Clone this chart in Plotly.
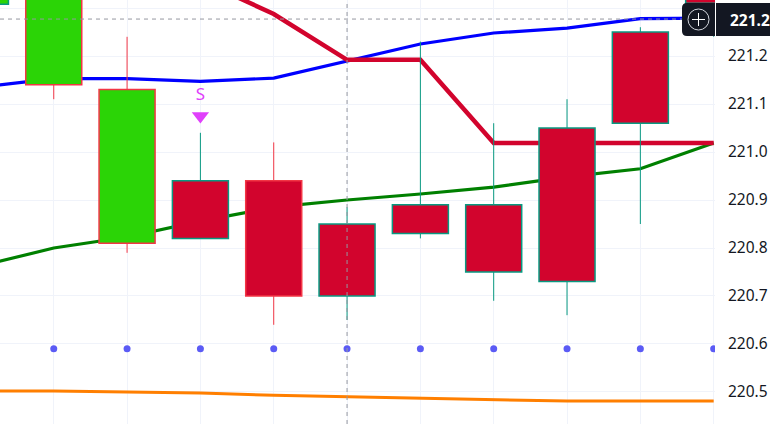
import plotly.graph_objects as go

idx = [-1, 0, 1, 2, 3, 4, 5, 6, 7, 8, 9]
body_top = [221.40, 221.40, 221.13, 220.94, 220.94, 220.85, 220.89, 220.89, 221.05, 221.25, 221.40]
body_bot = [221.308, 221.14, 220.81, 220.82, 220.70, 220.70, 220.83, 220.75, 220.73, 221.06, 221.31]
high = [221.42, 221.42, 221.24, 221.04, 221.02, 220.885, 221.23, 221.06, 221.11, 221.26, 221.45]
low = [221.30, 221.11, 220.79, 220.82, 220.64, 220.65, 220.82, 220.69, 220.66, 220.85, 221.24]
fills = ["#2bd406", "#2bd406", "#2bd406"] + ["#d2042d"] * 8
borders = ["#089981", "#f23645", "#f23645", "#089981", "#f23645"] + ["#089981"] * 6

blue = [221.135, 221.153, 221.153, 221.147, 221.154, 221.19, 221.225, 221.248, 221.258, 221.278, 221.279]
red = [None, None, None, 221.358, 221.2875, 221.192, 221.192, 221.019, 221.019, 221.019, 221.019]
green = [220.7625, 220.80, 220.823, 220.856, 220.885, 220.90, 220.9125, 220.927, 220.948, 220.965, 221.019]
orange = [220.502, 220.502, 220.50, 220.498, 220.493, 220.49, 220.4875, 220.483, 220.481, 220.481, 220.481]
dots = [220.59] * 10
signal_x = [2]
signal_y = [221.075]
signal_label_y = [221.117]
current_price = 221.277
crosshair_x = 4
tick_vals = [220.5, 220.6, 220.7, 220.8, 220.9, 221.0, 221.1, 221.2, 221.3]
tick_text = ["220.5", "220.6", "220.7", "220.8", "220.9", "221.0", "221.1", "221.2", "221.3"]

W, H, R = 770, 424, 55
fig = go.Figure()

for vals, col, w in [(orange, "#ff7f00", 3), (green, "#008000", 3.2), (blue, "#0000ff", 3.2), (red, "#d2042d", 4.5)]:
    fig.add_trace(go.Scatter(x=idx, y=vals, mode="lines", line=dict(color=col, width=w), zorder=1,
                             connectgaps=False, showlegend=False, hoverinfo="skip"))

for col in ["#089981", "#f23645"]:
    xs, ys = [], []
    for i, b in enumerate(borders):
        if b == col:
            xs += [idx[i], idx[i], None]
            ys += [low[i], high[i], None]
    fig.add_trace(go.Scatter(x=xs, y=ys, mode="lines", line=dict(color=col, width=1), zorder=2,
                             showlegend=False, hoverinfo="skip"))

fig.add_trace(go.Bar(x=idx, y=[t - b for t, b in zip(body_top, body_bot)], base=body_bot, width=0.764,
                     marker=dict(color=fills, line=dict(color=borders, width=1.5)), zorder=3,
                     showlegend=False, hoverinfo="skip"))

fig.add_trace(go.Scatter(x=idx[1:], y=dots, mode="markers", marker=dict(color="#5b5bf5", size=7), zorder=4,
                         showlegend=False, hoverinfo="skip"))

fig.add_trace(go.Scatter(x=signal_x, y=signal_y, mode="markers",
                         marker=dict(symbol="triangle-down", color="#e040fb", size=15), zorder=5,
                         showlegend=False, hoverinfo="skip"))
fig.add_trace(go.Scatter(x=signal_x, y=signal_label_y, mode="text", text=["S"], textposition="middle center",
                         textfont=dict(color="#e040fb", size=17, family="Noto Sans"), zorder=5,
                         showlegend=False, hoverinfo="skip"))

dash = dict(color="#9598a1", width=1, dash="4px,4px")
shapes = [
    dict(type="line", xref="x", yref="paper", x0=crosshair_x, x1=crosshair_x, y0=0, y1=1, line=dash, layer="above"),
    dict(type="line", xref="paper", yref="y", x0=0, x1=1, y0=current_price, y1=current_price, line=dash, layer="above"),
]


def px(x):
    return x / (W - R)


def py(y):
    return 1 - y / H


# price label and crosshair button on the right
shapes += [
    dict(type="path", xref="paper", yref="paper", layer="above", line=dict(width=0), fillcolor="#131722",
         path=f"M {px(715)} {py(3)} L {px(687)} {py(3)} Q {px(682)} {py(3)} {px(682)} {py(8)} "
              f"L {px(682)} {py(31)} Q {px(682)} {py(36)} {px(687)} {py(36)} L {px(715)} {py(36)} Z"),
    dict(type="rect", xref="paper", yref="paper", layer="above", line=dict(width=0), fillcolor="#131722",
         x0=px(716), x1=px(770), y0=py(36), y1=py(3)),
    dict(type="circle", xref="paper", yref="paper", layer="above", line=dict(color="#d1d4dc", width=1),
         x0=px(688), x1=px(709), y0=py(30), y1=py(9)),
    dict(type="line", xref="paper", yref="paper", layer="above", line=dict(color="#ffffff", width=1),
         x0=px(692), x1=px(705), y0=py(19.5), y1=py(19.5)),
    dict(type="line", xref="paper", yref="paper", layer="above", line=dict(color="#ffffff", width=1),
         x0=px(698.5), x1=px(698.5), y0=py(13), y1=py(26)),
]

fig.update_layout(
    width=W, height=H, margin=dict(l=0, r=R, t=0, b=0), paper_bgcolor="#ffffff", plot_bgcolor="#ffffff",
    showlegend=False, shapes=shapes, hovermode=False,
    font=dict(family="Noto Sans", color="#131722", size=15.5),
    xaxis=dict(range=[-0.733, 9.018], tickvals=idx[1:], showticklabels=False, gridcolor="#f0f3fa", gridwidth=1,
               zeroline=False, showline=False, ticks=""),
    yaxis=dict(side="right", range=[220.4333, 221.3167], tickvals=tick_vals, ticktext=tick_text,
               gridcolor="#f0f3fa", gridwidth=1, zeroline=False, showline=False, ticks="", automargin=False,
               ticklabelstandoff=12, tickfont=dict(size=15.5, color="#131722")),
    annotations=[dict(text="<b>221.2</b>", xref="paper", yref="paper", x=px(728), y=py(19.5), xanchor="left",
                      yanchor="middle", showarrow=False, font=dict(size=15.5, color="#ffffff", family="Noto Sans"))],
)

fig.write_html("out.html", config=dict(displayModeBar=False),
               post_script="document.documentElement.style.overflow='hidden';document.body.style.margin='0';")
